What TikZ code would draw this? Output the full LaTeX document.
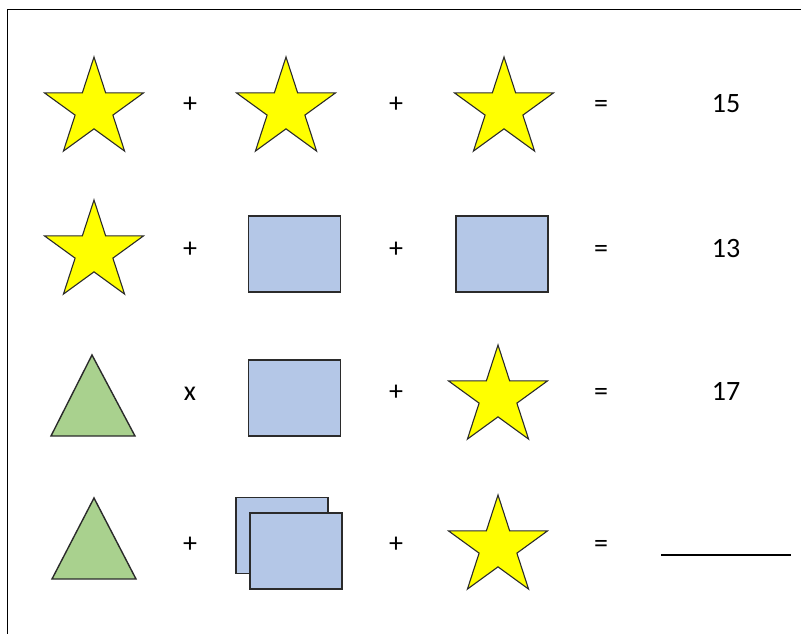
\documentclass[tikz,border=0pt]{standalone}
\usepackage{fontspec}
\setmainfont{Carlito}
\usetikzlibrary{shapes.geometric}
\definecolor{starfill}{HTML}{FFFF00}
\definecolor{sqfill}{HTML}{B4C7E7}
\definecolor{trifill}{HTML}{A9D18E}
\definecolor{edge}{HTML}{2B2B2B}
\tikzset{
  starbox/.style={star, star points=5, star point ratio=2.618, minimum size=104pt, inner sep=0pt, draw=edge, line width=1.1pt, fill=starfill},
  sqbox/.style={rectangle, minimum width=92pt, minimum height=76pt, inner sep=0pt, draw=edge, line width=1.4pt, fill=sqfill},
  tri/.style={draw=edge, line width=1.4pt, fill=trifill, line join=miter},
  sym/.style={anchor=base, inner sep=0pt, font=\fontsize{28}{30}\selectfont},
  frame/.style={line width=1.5pt, draw=black}
}
\begin{document}
\begin{tikzpicture}[x=1pt,y=-1pt]
\useasboundingbox (0,0) rectangle (801,634);
\coordinate (fbl) at (7.5,640);
\coordinate (ftl) at (7.5,9.5);
\coordinate (ftr) at (805,9.5);
\draw[frame] (fbl) -- (ftl) -- (ftr);

% Row 1
\node[starbox] (s11) at (94,109) {};
\node[sym] (p11) at (190,113) {+};
\node[starbox] (s12) at (286,109) {};
\node[sym] (p12) at (396,113) {+};
\node[starbox] (s13) at (504,109) {};
\node[sym] (e1) at (601,113) {=};
\node[sym] (r1) at (726,113) {15};

% Row 2
\node[starbox] (s21) at (94,252) {};
\node[sym] (p21) at (190,257) {+};
\node[sqbox] (q21) at (294.5,254) {};
\node[sym] (p22) at (396,257) {+};
\node[sqbox] (q22) at (502,254) {};
\node[sym] (e2) at (601,257) {=};
\node[sym] (r2) at (726,257) {13};

% Row 3
\coordinate (t3a) at (92,355);
\coordinate (t3b) at (51,436);
\coordinate (t3c) at (135,436);
\draw[tri] (t3a) -- (t3b) -- (t3c) -- cycle;
\node[sym] (m31) at (190,400) {x};
\node[sqbox] (q31) at (294.5,398) {};
\node[sym] (p32) at (396,400) {+};
\node[starbox] (s33) at (498,397) {};
\node[sym] (e3) at (601,400) {=};
\node[sym] (r3) at (726,400) {17};

% Row 4
\coordinate (t4a) at (94,498);
\coordinate (t4b) at (52,579);
\coordinate (t4c) at (136,579);
\draw[tri] (t4a) -- (t4b) -- (t4c) -- cycle;
\node[sym] (p41) at (190,552) {+};
\node[sqbox] (q41) at (282,535.5) {};
\node[sqbox] (q42) at (296,551) {};
\node[sym] (p42) at (396,552) {+};
\node[starbox] (s43) at (498,547) {};
\node[sym] (e4) at (601,552) {=};
\coordinate (bl) at (661,555);
\coordinate (br) at (791,555);
\draw[line width=1.3pt] (bl) -- (br);
\end{tikzpicture}
\end{document}
